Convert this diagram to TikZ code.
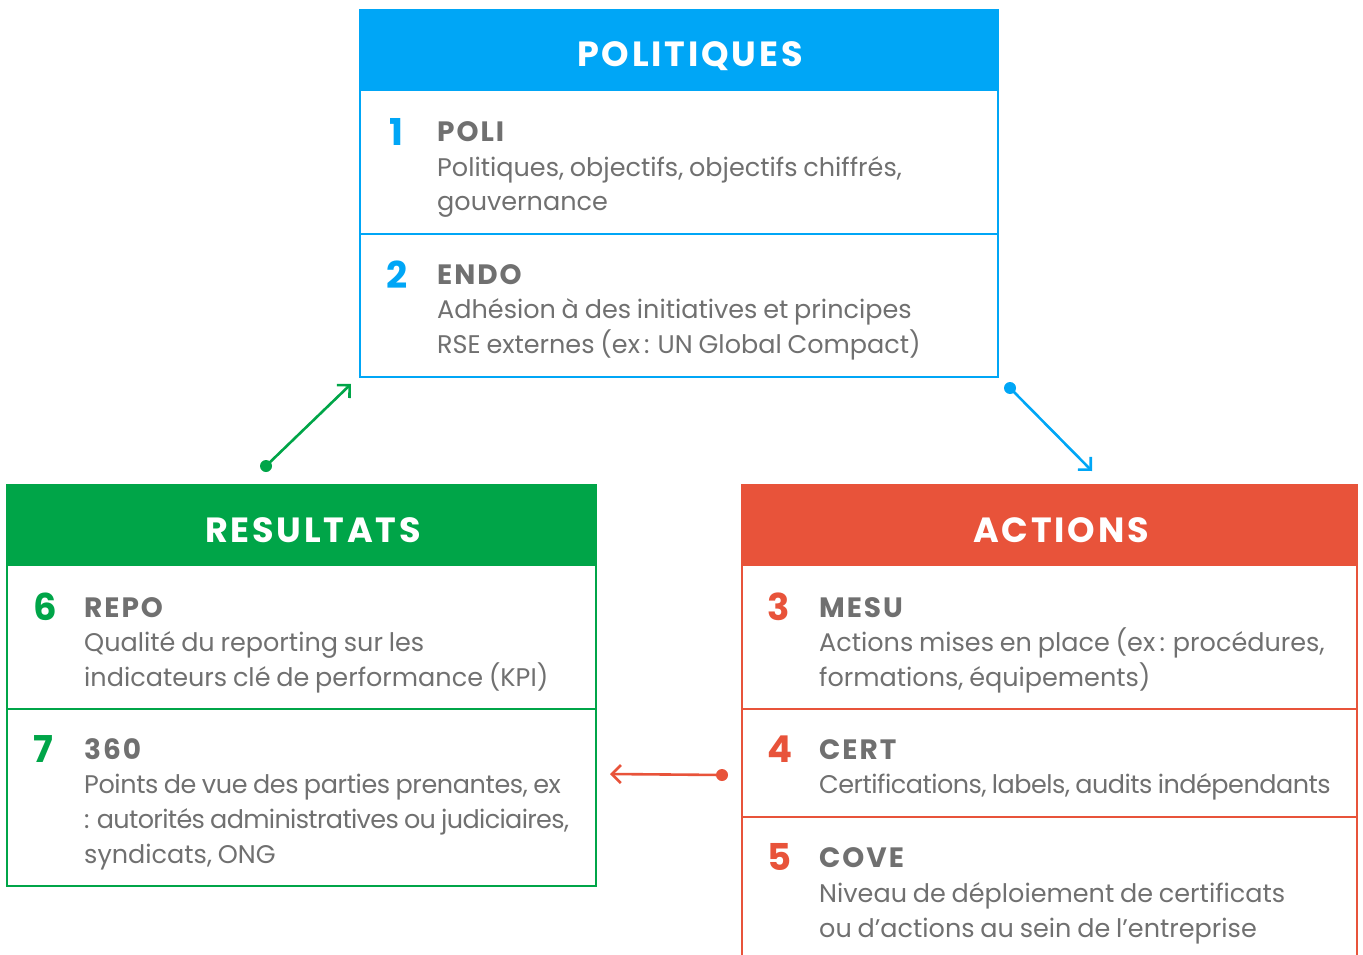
\documentclass[tikz,border=0pt]{standalone}
\usepackage{fontspec}
\setmainfont{Poppins}
\newfontfamily\bodyfont[WordSpace=0.85]{Poppins}
\usetikzlibrary{arrows.meta}
\definecolor{cblue}{HTML}{00A6F6}
\definecolor{cgreen}{HTML}{00A548}
\definecolor{cred}{HTML}{E8533A}
\definecolor{ctext}{HTML}{707070}
\newcommand{\tight}[1]{{\addfontfeature{LetterSpace=-2.6}#1}}
\tikzset{
  hdr/.style={font=\bfseries\fontsize{35}{35}\selectfont\addfontfeature{LetterSpace=8}, text=white, inner sep=0pt, anchor=base},
  num/.style={font=\bfseries\fontsize{37}{37}\selectfont, anchor=base west, inner sep=0pt},
  ttl/.style={font=\bfseries\fontsize{28}{28}\selectfont\addfontfeature{LetterSpace=7}, text=ctext, anchor=base west, inner sep=0pt},
  body/.style={font=\bodyfont\fontsize{25.5}{35}\selectfont, text=ctext, anchor=base west, align=left, inner sep=0pt},
  conn/.style={line width=2.6pt, -{Straight Barb[length=9pt,width=18pt,line width=2.6pt]}},
  dot/.style={circle, fill, inner sep=0pt, minimum size=12pt},
}
\begin{document}
\begin{tikzpicture}[x=1pt,y=-1pt]
\useasboundingbox (0,0) rectangle (1363,955);
% top box
\fill[cblue] (360,10) rectangle (998,91);
\draw[cblue, line width=1.5pt] (360,10) rectangle (998,377);
\draw[cblue, line width=1.5pt] (360,234) -- (998,234);
\node[hdr] (polh) at (690,67) {POLITIQUES};
\node[num, text=cblue] (n1) at (389,146) {1};
\node[ttl] (t1) at (437,142) {POLI};
\node[body] (b1) at (437,211) {Politiques, objectifs, objectifs chiffrés,\\gouvernance};
\node[num, text=cblue] (n2) at (386,288) {2};
\node[ttl] (t2) at (437,284) {ENDO};
\node[body] (b2) at (437,353) {Adhésion à des initiatives et principes\\RSE externes (ex\,: UN Global Compact)};
% left box
\fill[cgreen] (7,485) rectangle (596,566);
\draw[cgreen, line width=1.5pt] (7,485) rectangle (596,886);
\draw[cgreen, line width=1.5pt] (7,709) -- (596,709);
\node[hdr] (resh) at (313,542) {RESULTATS};
\node[num, text=cgreen] (n6) at (33,620) {6};
\node[ttl] (t6) at (84,617) {REPO};
\node[body] (b6) at (84,686) {Qualité du reporting sur les\\indicateurs clé de performance (KPI)};
\node[num, text=cgreen] (n7) at (33,762) {7};
\node[ttl] (t7) at (84,759) {360};
\node[body] (b7) at (84,863) {{\addfontfeature{LetterSpace=-1.6}Points de vue des parties prenantes, ex}\\\tight{: autorités administratives ou judiciaires,}\\syndicats, ONG};
% right box
\fill[cred] (742,485) rectangle (1357,566);
\draw[cred, line width=1.5pt] (742,955) -- (742,485) -- (1357,485) -- (1357,955);
\draw[cred, line width=1.5pt] (742,709) -- (1357,709);
\draw[cred, line width=1.5pt] (742,817) -- (1357,817);
\node[hdr] (acth) at (1061,542) {ACTIONS};
\node[num, text=cred] (n3) at (767,620) {3};
\node[ttl] (t3) at (819,617) {MESU};
\node[body] (b3) at (819,686) {Actions mises en place (ex\,: procédures,\\formations, équipements)};
\node[num, text=cred] (n4) at (767,762) {4};
\node[ttl] (t4) at (819,759) {CERT};
\node[body] (b4) at (819,793) {{\addfontfeature{LetterSpace=-2}Certifications, labels, audits indépendants}};
\node[num, text=cred] (n5) at (767,870) {5};
\node[ttl] (t5) at (819,867) {COVE};
\node[body] (b5) at (819,937) {Niveau de déploiement de certificats\\ou d’actions au sein de l’entreprise};
% connectors
\node[dot, fill=cgreen] (dg) at (266,466) {};
\coordinate (eg) at (351,384);
\draw[conn, cgreen] (dg.center) -- (eg);
\node[dot, fill=cblue] (db) at (1010,388) {};
\coordinate (eb) at (1092,471);
\draw[conn, cblue] (db.center) -- (eb);
\node[dot, fill=cred] (dr) at (722,775) {};
\coordinate (er) at (610,774);
\draw[conn, cred] (dr.center) -- (er);
\end{tikzpicture}
\end{document}
